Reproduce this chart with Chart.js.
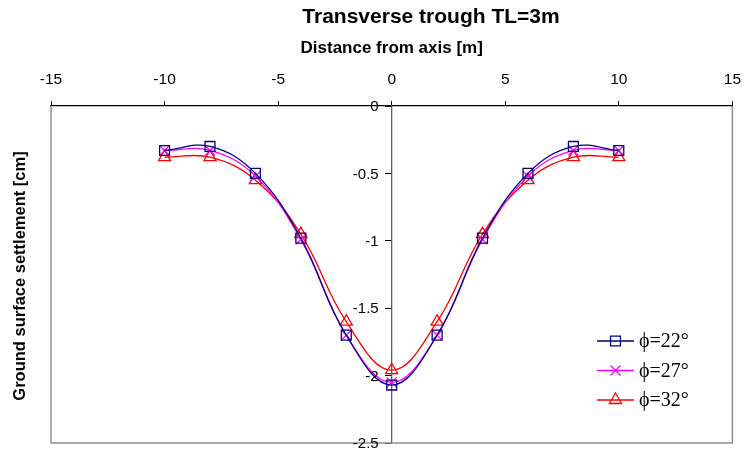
<!DOCTYPE html>
<html>
<head>
<meta charset="utf-8">
<script src="https://cdn.jsdelivr.net/npm/chart.js@4"></script>
<style>
  html, body { margin: 0; padding: 0; background: #fff; }
  #wrap { width: 753px; height: 452px; }
</style>
</head>
<body>
<div id="wrap"><canvas id="chart" width="753" height="452"></canvas></div>
<script>
// distance from tunnel axis [m]
const distances = [-10, -8, -6, -4, -2, 0, 2, 4, 6, 8, 10];
// settlement [cm] for each friction angle
const phi22 = [-0.33, -0.30, -0.50, -0.98, -1.70, -2.07, -1.70, -0.98, -0.50, -0.30, -0.33];
const phi27 = [-0.33, -0.33, -0.52, -0.99, -1.70, -2.05, -1.70, -0.99, -0.52, -0.33, -0.33];
const phi32 = [-0.38, -0.38, -0.55, -0.95, -1.60, -1.96, -1.60, -0.95, -0.55, -0.38, -0.38];
const seriesNames = ['\u03D5=22\u00B0', '\u03D5=27\u00B0', '\u03D5=32\u00B0'];

const toPoints = vals => vals.map((v, i) => ({x: distances[i], y: v}));

const makeSet = (label, vals, color, style, r) => ({
    label: label,
    data: toPoints(vals),
    borderColor: color,
    backgroundColor: 'rgba(0,0,0,0)',
    borderWidth: 1.3,
    showLine: true,
    tension: 0.4,
    pointStyle: style,
    pointRadius: r,
    pointBorderWidth: 1.3,
    pointBorderColor: color,
    pointBackgroundColor: 'rgba(0,0,0,0)'
});

const fmt = v => String(Number(v.toFixed(2)));

// gray box, title, y tick labels, y title and the legend inside the plot
const extras = {
    id: 'extras',
    beforeDatasetsDraw(chart) {
        const {ctx, chartArea: a} = chart;
        ctx.save();
        ctx.strokeStyle = '#909090';
        ctx.lineWidth = 1.5;
        ctx.beginPath();
        ctx.moveTo(a.left, a.top);
        ctx.lineTo(a.left, a.bottom);
        ctx.lineTo(a.right, a.bottom);
        ctx.lineTo(a.right, a.top);
        ctx.stroke();
        ctx.restore();
    },
    afterDraw(chart) {
        const {ctx} = chart;
        const ys = chart.scales.y;
        const x0px = chart.scales.x.getPixelForValue(0);

        // main title (sits a bit right of centre in the original)
        ctx.save();
        ctx.font = 'bold 21px "Liberation Sans", Arial, sans-serif';
        ctx.fillStyle = '#000';
        ctx.textAlign = 'center';
        ctx.textBaseline = 'middle';
        ctx.fillText('Transverse trough TL=3m', 431, 17);
        ctx.restore();

        ctx.save();
        ctx.font = '15px "Liberation Sans", Arial, sans-serif';
        ctx.fillStyle = '#000';
        ctx.textAlign = 'right';
        ctx.textBaseline = 'middle';
        ys.ticks.forEach(t => {
            ctx.fillText(fmt(t.value), x0px - 13, ys.getPixelForValue(t.value) + 1);
        });
        ctx.restore();

        ctx.save();
        ctx.translate(20, 276);
        ctx.rotate(-Math.PI / 2);
        ctx.font = 'bold 16.5px "Liberation Sans", Arial, sans-serif';
        ctx.fillStyle = '#000';
        ctx.textAlign = 'center';
        ctx.textBaseline = 'middle';
        ctx.fillText('Ground surface settlement [cm]', 0, 0);
        ctx.restore();

        ctx.save();
        chart.data.datasets.forEach((ds, i) => {
            const y = 341 + i * 29.5;
            const lx0 = 597, lx1 = 634;
            ctx.strokeStyle = ds.borderColor;
            ctx.lineWidth = 1.3;
            ctx.beginPath();
            ctx.moveTo(lx0, y);
            ctx.lineTo(lx1, y);
            ctx.stroke();
            ctx.fillStyle = 'rgba(0,0,0,0)';
            Chart.helpers.drawPoint(ctx, {
                pointStyle: ds.pointStyle,
                radius: ds.pointRadius,
                borderWidth: 1.3,
                rotation: 0
            }, (lx0 + lx1) / 2, y);
            ctx.fillStyle = '#000';
            ctx.font = '20px "Liberation Serif", "DejaVu Serif", serif';
            ctx.textAlign = 'left';
            ctx.textBaseline = 'middle';
            ctx.fillText(ds.label, 639, y + 1);
        });
        ctx.restore();
    }
};

new Chart(document.getElementById('chart'), {
    type: 'scatter',
    data: {
        datasets: [
            makeSet(seriesNames[0], phi22, '#000080', 'rect', 7),
            makeSet(seriesNames[1], phi27, '#FF00FF', 'crossRot', 7),
            makeSet(seriesNames[2], phi32, '#FF0000', 'triangle', 7)
        ]
    },
    options: {
        responsive: false,
        animation: false,
        layout: { padding: { left: 51, right: 11, bottom: 9, top: 34 } },
        plugins: {
            legend: { display: false },
            tooltip: { enabled: false },
            title: { display: false }
        },
        scales: {
            x: {
                type: 'linear',
                position: 'top',
                min: -15,
                max: 15,
                ticks: {
                    stepSize: 5,
                    color: '#000',
                    padding: 12,
                    font: { family: '"Liberation Sans", Arial, sans-serif', size: 15.5 }
                },
                grid: { drawOnChartArea: false, tickLength: 5, color: '#000' },
                border: { color: '#000', width: 1.3 },
                title: {
                    display: true,
                    text: 'Distance from axis [m]',
                    color: '#000',
                    font: { family: '"Liberation Sans", Arial, sans-serif', size: 17, weight: 'bold' },
                    padding: { top: 4, bottom: 0 }
                }
            },
            y: {
                type: 'linear',
                position: { x: 0 },
                min: -2.5,
                max: 0,
                ticks: {
                    stepSize: 0.5,
                    display: false
                },
                grid: { drawOnChartArea: false, tickLength: 6, color: '#000' },
                border: { color: '#606060', width: 1.3 }
            }
        }
    },
    plugins: [extras]
});
</script>
</body>
</html>
